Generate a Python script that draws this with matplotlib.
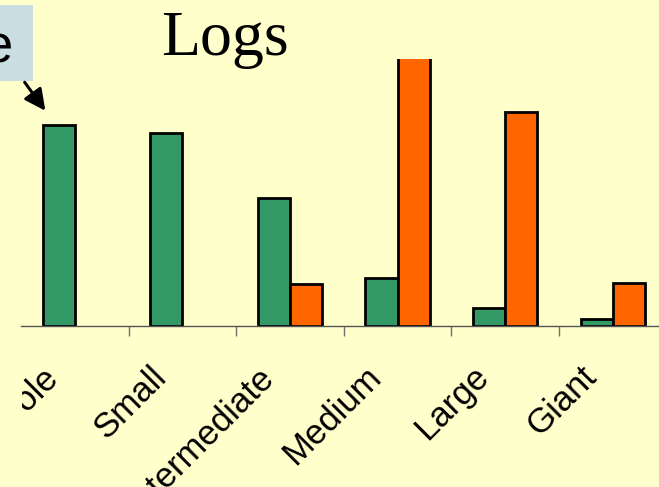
import matplotlib
matplotlib.use("Agg")
import matplotlib.pyplot as plt
from matplotlib.patches import Rectangle, FancyArrowPatch
from matplotlib.transforms import offset_copy, Bbox, TransformedBbox
import numpy as np

# Tree size classes and log counts per class
categories = ["Pole", "Small", "Intermediate", "Medium", "Large", "Giant"]
green_values = [37.6, 36.1, 24.0, 9.0, 3.3, 1.4]
orange_values = [0.0, 0.0, 7.8, 65.0, 40.0, 8.0]

BG = "#FFFFCC"
GREEN = "#339966"
ORANGE = "#FF6600"
W, H = 659, 487

fig = plt.figure(figsize=(W / 100, H / 100), dpi=100, facecolor=BG)

def fx(px):
    return px / W

def fy(py):
    return 1 - py / H

# Plot area (extends past the right edge of the canvas)
ax = fig.add_axes([fx(21), fy(326), 645.6 / W, 267 / H])
ax.set_facecolor("none")

x = np.arange(len(categories)) + 0.5
bw = 0.30

def edge_widths(vals):
    return [2 if v > 0 else 0 for v in vals]

ax.bar(x - bw / 2, green_values, width=bw, color=GREEN, edgecolor="black",
       linewidth=edge_widths(green_values))
ax.bar(x + bw / 2, orange_values, width=bw, color=ORANGE, edgecolor="black",
       linewidth=edge_widths(orange_values))

ax.set_xlim(0, len(categories))
ax.set_ylim(0, 50)
for s in ["top", "right", "left"]:
    ax.spines[s].set_visible(False)
ax.spines["bottom"].set_color("#555555")
ax.spines["bottom"].set_linewidth(1.0)
ax.set_yticks([])
ax.set_xticks(np.arange(1, len(categories)))
ax.set_xticklabels([])
ax.tick_params(axis="x", direction="out", length=7, width=1, color="#707070")

# Rotated category labels
clip = TransformedBbox(Bbox([[fx(22), 0], [1, 1]]), fig.transFigure)
label_tr = offset_copy(ax.transData, fig=fig, x=-10, y=-34, units="dots")
for xi, name in zip(x, categories):
    t = ax.text(xi, 0, name, transform=label_tr, rotation=45, ha="right", va="top",
                fontsize=25, family=["Liberation Sans", "DejaVu Sans"], color="black")
    t.set_clip_on(True)
    t.set_clip_box(clip)

# Title
fig.text(fx(225), fy(55), "Logs", ha="center", va="baseline", fontsize=46,
         family=["Liberation Serif", "DejaVu Serif"], color="black")

# Callout box with arrow
fig.patches.append(Rectangle((fx(-60), fy(81)), fx(93), (81 - 5) / H,
                             transform=fig.transFigure, facecolor="#C9DEE0",
                             edgecolor="none", zorder=1))
fig.text(fx(14), fy(61), "Pole", ha="right", va="baseline", fontsize=39,
         family=["Liberation Sans", "DejaVu Sans"], color="black", zorder=2)
arrow = FancyArrowPatch((fx(23), fy(80)), (fx(47), fy(113)), transform=fig.transFigure,
                        arrowstyle="-|>,head_length=8,head_width=4", mutation_scale=1.6,
                        color="black", linewidth=2.2)
fig.patches.append(arrow)

fig.savefig("out.png", dpi=100, facecolor=BG)
